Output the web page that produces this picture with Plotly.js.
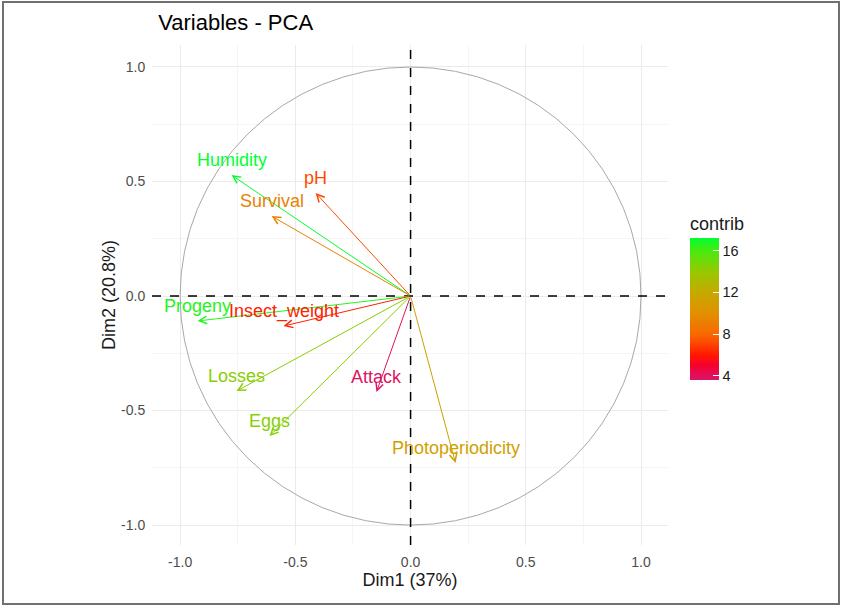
<!DOCTYPE html>
<html>
<head>
<meta charset="utf-8">
<script src="https://cdn.plot.ly/plotly-3.0.1.min.js"></script>
<style>
  html, body { margin: 0; padding: 0; background: #ffffff; }
  #chart { width: 842px; height: 607px; position: relative; }
  #frame { position: absolute; left: 2px; top: 1px; width: 834px; height: 600px;
           border: 2px solid #707070; pointer-events: none; box-sizing: content-box; }
</style>
</head>
<body>
<div id="chart"></div>
<div id="frame"></div>
<script>
// ---- data ----
const variables = ['Humidity', 'pH', 'Survival', 'Progeny', 'Insect_weight', 'Losses', 'Eggs', 'Attack', 'Photoperiodicity'];
const dim1 = [-0.777, -0.412, -0.603, -0.924, -0.551, -0.755, -0.612, -0.148, 0.195];
const dim2 = [0.528, 0.450, 0.349, -0.109, -0.131, -0.415, -0.611, -0.419, -0.729];
const contrib = [17.2, 7.2, 9.3, 16.6, 6.2, 14.3, 14.4, 3.6, 11.2];

const axisTickVals = [-1.0, -0.5, 0.0, 0.5, 1.0];
const axisTickText = ['-1.0', '-0.5', '0.0', '0.5', '1.0'];
const contribTickVals = [4, 8, 12, 16];
const contribTickText = ['4', '8', '12', '16'];

// ---- colour scale for contrib ----
const colorscale = [
  [0.000, '#DC1464'],
  [0.030, '#E0105A'],
  [0.100, '#F50030'],
  [0.176, '#FF1800'],
  [0.250, '#FF4200'],
  [0.320, '#F86800'],
  [0.470, '#E29000'],
  [0.620, '#C4AA00'],
  [0.760, '#98C800'],
  [0.910, '#48EA10'],
  [1.000, '#00FF30']
];
const cmin = Math.min(...contrib), cmax = Math.max(...contrib);
function hexToRgb(h) { return [1,3,5].map(i => parseInt(h.substr(i, 2), 16)); }
function colorFor(v) {
  const t = (v - cmin) / (cmax - cmin);
  for (let i = 1; i < colorscale.length; i++) {
    if (t <= colorscale[i][0]) {
      const [t0, c0] = colorscale[i-1], [t1, c1] = colorscale[i];
      const f = (t - t0) / (t1 - t0);
      const a = hexToRgb(c0), b = hexToRgb(c1);
      const c = a.map((x, k) => Math.round(x + (b[k] - x) * f));
      return 'rgb(' + c.join(',') + ')';
    }
  }
  return colorscale[colorscale.length - 1][1];
}
const colors = contrib.map(colorFor);

const FONT = 'Liberation Sans, Arial, sans-serif';

// arrows (tail at origin, tip at variable coordinates)
const arrowAnns = variables.map((v, i) => ({
  x: dim1[i], y: dim2[i], xref: 'x', yref: 'y',
  ax: 0, ay: 0, axref: 'x', ayref: 'y',
  showarrow: true, arrowhead: 5, arrowsize: 1.5, arrowwidth: 1,
  arrowcolor: colors[i], standoff: 0, startstandoff: 0, text: ''
}));
const labelAnns = variables.map((v, i) => ({
  x: dim1[i], y: dim2[i], xref: 'x', yref: 'y',
  text: v, showarrow: false, yshift: 15,
  xanchor: 'center', yanchor: 'middle',
  font: { family: FONT, size: 18, color: colors[i] }
}));

const traces = [
  {
    // invisible points just to carry the contrib colour bar
    x: dim1, y: dim2, type: 'scatter', mode: 'markers', hoverinfo: 'skip',
    marker: {
      size: 1, opacity: 0, color: contrib, colorscale: colorscale,
      cmin: cmin, cmax: cmax, showscale: true,
      colorbar: {
        title: { text: 'contrib', side: 'top', font: { family: FONT, size: 18, color: '#1a1a1a' } },
        x: 1.0426, xanchor: 'left', xpad: 0,
        y: (545 - 213) / 500, yanchor: 'top', ypad: 0,
        thickness: 29, thicknessmode: 'pixels',
        len: 167, lenmode: 'pixels',
        outlinewidth: 0,
        tickmode: 'array', tickvals: contribTickVals, ticktext: contribTickText,
        ticks: 'inside', ticklen: 6, tickcolor: '#ffffff', tickwidth: 1,
        tickprefix: '\u00a0',
        tickfont: { family: FONT, size: 14.5, color: '#1a1a1a' }
      }
    },
    showlegend: false
  }
];

const layout = {
  width: 842, height: 607,
  margin: { l: 152, r: 174, t: 45, b: 62 },
  paper_bgcolor: '#ffffff', plot_bgcolor: '#ffffff',
  font: { family: FONT },
  showlegend: false,
  title: {
    text: 'Variables - PCA', xref: 'paper', x: 0.012, xanchor: 'left',
    yref: 'container', y: 1 - 22 / 607, yanchor: 'middle',
    font: { family: FONT, size: 22, color: '#000000' }
  },
  xaxis: {
    range: [-1.122, 1.117], zeroline: false, showline: false,
    tickmode: 'array', tickvals: axisTickVals, ticktext: axisTickText,
    ticks: 'outside', ticklen: 4, tickcolor: 'rgba(0,0,0,0)',
    tickfont: { family: FONT, size: 14, color: '#4D4D4D' },
    gridcolor: '#EBEBEB', gridwidth: 1,
    minor: { dtick: 0.25, tick0: 0, showgrid: true, gridcolor: '#F3F3F3', gridwidth: 0.8 },
    title: { text: 'Dim1 (37%)', standoff: 4, font: { family: FONT, size: 18, color: '#1a1a1a' } },
    fixedrange: true
  },
  yaxis: {
    range: [-1.087, 1.096], zeroline: false, showline: false,
    tickmode: 'array', tickvals: axisTickVals, ticktext: axisTickText,
    ticks: 'outside', ticklen: 3, tickcolor: 'rgba(0,0,0,0)',
    tickfont: { family: FONT, size: 14, color: '#4D4D4D' },
    gridcolor: '#EBEBEB', gridwidth: 1,
    minor: { dtick: 0.25, tick0: 0, showgrid: true, gridcolor: '#F3F3F3', gridwidth: 0.8 },
    title: { text: 'Dim2 (20.8%)', standoff: 0, font: { family: FONT, size: 18, color: '#1a1a1a' } },
    fixedrange: true
  },
  shapes: [
    { type: 'circle', xref: 'x', yref: 'y', x0: -1, x1: 1, y0: -1, y1: 1,
      line: { color: '#A8A8A8', width: 1 } },
    { type: 'line', xref: 'x', yref: 'paper', x0: 0, x1: 0, y0: 0, y1: 1,
      line: { color: '#000000', width: 1.5, dash: 'dash' } },
    { type: 'line', xref: 'paper', yref: 'y', x0: 0, x1: 1, y0: 0, y1: 0,
      line: { color: '#000000', width: 1.5, dash: 'dash' } }
  ],
  annotations: arrowAnns.concat(labelAnns)
};

Plotly.newPlot('chart', traces, layout, { displayModeBar: false, staticPlot: true });
</script>
</body>
</html>
